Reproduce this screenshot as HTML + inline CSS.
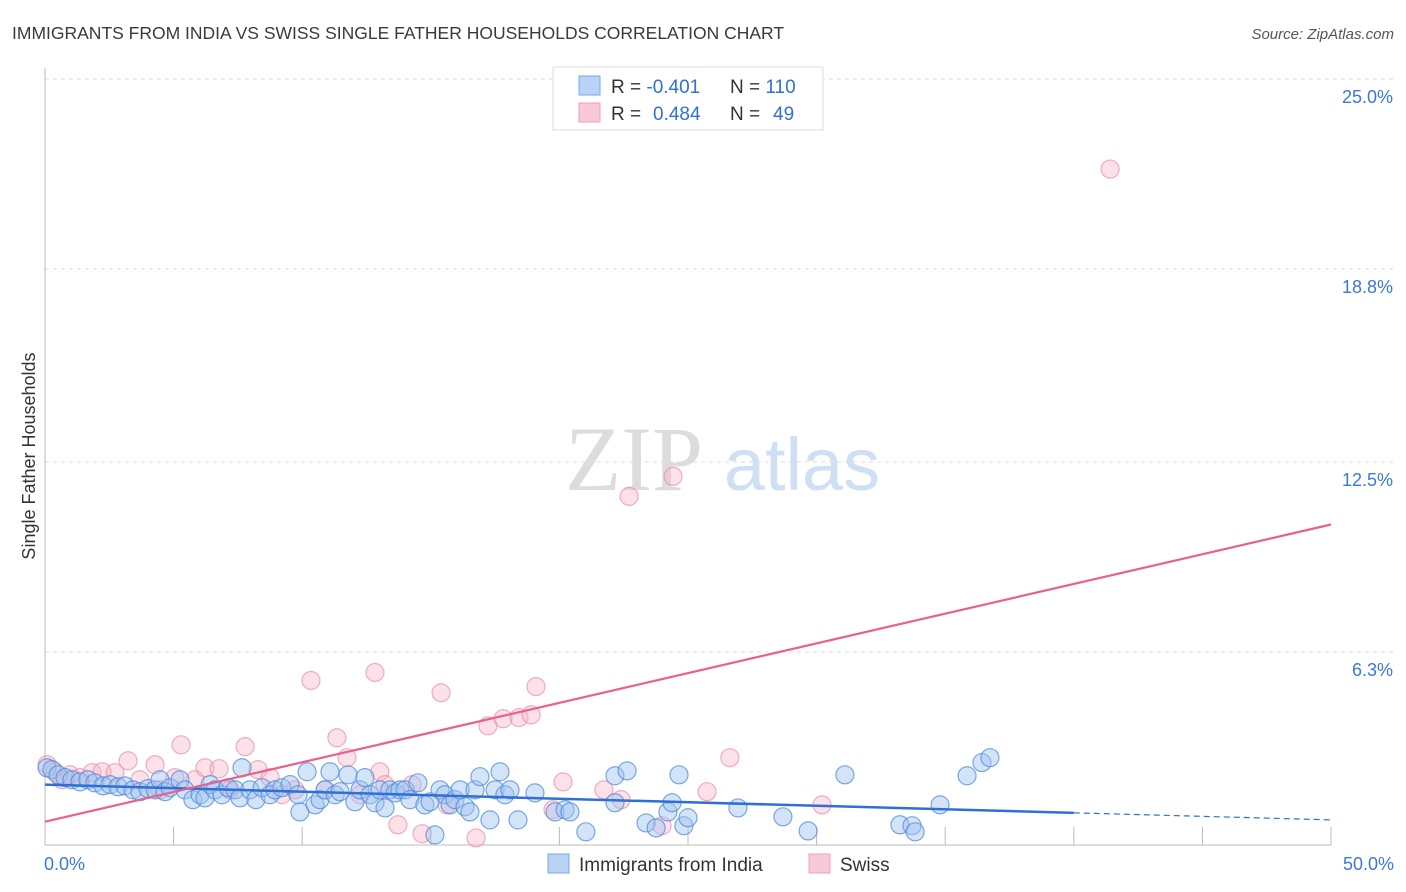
<!DOCTYPE html>
<html><head><meta charset="utf-8">
<style>
body{margin:0;background:#fff;font-family:"Liberation Sans",sans-serif;}
#wrap{position:relative;width:1406px;height:892px;overflow:hidden;}
</style></head>
<body>
<div id="wrap">
<svg id="chart" width="1406" height="892" xmlns="http://www.w3.org/2000/svg">
<text x="12" y="39" font-size="17.5" fill="#3a3a3a">IMMIGRANTS FROM INDIA VS SWISS SINGLE FATHER HOUSEHOLDS CORRELATION CHART</text>
<text x="1394" y="39" font-size="15" fill="#555" font-style="italic" text-anchor="end">Source: ZipAtlas.com</text>
<text x="35" y="456" font-size="18" fill="#333" text-anchor="middle" transform="rotate(-90 35 456)">Single Father Households</text>
<g>
<text x="634" y="490" font-size="92" fill="#dcdcdc" font-family="Liberation Serif,serif" text-anchor="middle">ZIP</text>
<text x="802" y="490" font-size="74" fill="#cfe0f4" text-anchor="middle">atlas</text>
</g>
<g id="grid"></g>
<g id="axes"></g>
<g id="pts"></g>
<g id="trends"></g>
<g>
<rect x="553" y="67" width="270" height="63" fill="#fff" stroke="#ddd"/>
<rect x="579" y="76" width="21" height="19" fill="#b8d3f5" stroke="#7aaae6"/>
<rect x="579" y="103" width="21" height="19" fill="#f9c9d7" stroke="#f0a0b8"/>
<text x="611" y="93" font-size="19" fill="#333">R = <tspan fill="#2f6fd6">-0.401</tspan><tspan x="730">N = </tspan><tspan fill="#2f6fd6">110</tspan></text>
<text x="611" y="120" font-size="19" fill="#333">R = <tspan x="653" fill="#2f6fd6">0.484</tspan><tspan x="730">N = </tspan><tspan x="773" fill="#2f6fd6">49</tspan></text>
</g>
<g>
<rect x="548" y="854" width="21" height="19" fill="#b8d3f5" stroke="#7aaae6"/>
<text x="579" y="871" font-size="19" fill="#333">Immigrants from India</text>
<rect x="809" y="854" width="21" height="19" fill="#f9c9d7" stroke="#f0a0b8"/>
<text x="840" y="871" font-size="19" fill="#333">Swiss</text>
</g>
</svg>
</div>
<script>
const yTicks=[6.3,12.5,18.8,25.0];
const yTickLabels=["6.3%","12.5%","18.8%","25.0%"];
const xTickLabels=["0.0%","50.0%"];
const indiaX=[0.08,0.27,0.51,0.78,1.05,1.36,1.67,1.94,2.26,2.53,2.84,3.11,3.42,3.69,4.00,4.28,4.47,4.67,4.86,5.25,5.44,5.75,6.03,6.22,6.42,6.61,6.88,7.12,7.39,7.58,7.66,7.97,8.20,8.44,8.75,8.94,9.21,9.53,9.84,9.91,10.19,10.50,10.69,10.89,11.08,11.28,11.47,11.78,12.05,12.25,12.44,12.64,12.83,13.02,13.22,13.41,13.61,13.80,14.00,14.19,14.50,14.77,14.97,15.16,15.36,15.55,15.75,15.94,16.14,16.33,16.52,16.72,16.91,17.30,17.50,17.69,17.88,18.08,18.39,19.05,19.83,20.22,20.41,21.03,22.16,22.16,22.63,23.37,23.76,24.22,24.38,24.84,25.00,24.65,26.94,28.69,29.67,31.10,33.24,33.71,33.83,34.80,35.85,36.43,36.74];
const indiaY=[2.52,2.46,2.29,2.20,2.13,2.06,2.13,2.03,1.93,1.97,1.90,1.93,1.80,1.74,1.84,1.80,2.13,1.74,1.87,2.13,1.80,1.48,1.64,1.54,1.97,1.80,1.64,1.87,1.80,1.54,2.52,1.80,1.48,1.87,1.64,1.80,1.87,1.97,1.64,1.08,2.39,1.31,1.48,1.80,2.39,1.64,1.74,2.29,1.41,1.80,2.20,1.64,1.38,1.80,1.21,1.80,1.70,1.80,1.80,1.48,2.03,1.31,1.41,0.33,1.80,1.64,1.31,1.48,1.80,1.25,1.08,1.80,2.23,0.82,1.80,2.39,1.64,1.80,0.82,1.70,1.08,1.15,1.08,0.43,2.26,1.38,2.42,0.72,0.56,1.08,1.38,0.63,0.89,2.29,1.21,0.92,0.46,2.29,0.66,0.63,0.43,1.31,2.26,2.69,2.85];
const swissX=[0.08,0.39,0.66,0.97,1.36,1.83,2.22,2.72,3.23,3.69,4.28,4.47,5.05,5.29,5.83,6.22,6.77,7.19,7.78,8.28,8.75,9.21,9.72,10.34,10.89,11.35,11.74,12.25,12.83,13.02,13.22,13.72,14.27,14.66,15.40,15.63,16.76,17.22,17.81,18.43,18.90,19.09,19.75,20.14,21.73,22.40,22.71,23.99,24.42,25.74,26.63,30.21,41.41];
const swissY=[2.62,2.39,2.13,2.29,2.20,2.36,2.39,2.36,2.75,2.13,2.62,1.80,2.20,3.27,2.13,2.52,2.49,1.80,3.21,2.46,2.20,1.64,1.80,5.37,1.80,3.50,2.85,1.64,5.63,2.39,1.97,0.66,1.97,0.37,4.97,1.31,0.23,3.89,4.12,4.16,4.25,5.17,1.15,2.06,1.80,1.48,11.38,0.63,12.03,1.74,2.85,1.31,22.06];
const indiaTrend=[[0,1.97],[40,1.05],[50,0.82]];
const swissTrend=[[0,0.76],[50,10.46]];

const NS="http://www.w3.org/2000/svg";
const X0=45,X1=1331,Y0=845,Y25=79;
const xs=v=>X0+(X1-X0)*v/50;
const ys=v=>Y0-(Y0-Y25)*v/25;
function mk(tag,attrs,parent){const e=document.createElementNS(NS,tag);for(const k in attrs)e.setAttribute(k,attrs[k]);parent.appendChild(e);return e;}
const grid=document.getElementById('grid'),axes=document.getElementById('axes'),pts=document.getElementById('pts'),tr=document.getElementById('trends');
yTicks.forEach((t,i)=>{
 const y=ys(t);
 const l=mk('line',{x1:X0,x2:1395,y1:y,y2:y,stroke:'#dcdcdc','stroke-dasharray':'4,4'},grid);
 
 
 const tx=mk('text',{x:1393,y:y+24,'font-size':18,fill:'#3b78d8','text-anchor':'end'},axes);
 tx.textContent=yTickLabels[i];
 
 
});
const yl=mk('line',{x1:X0,x2:X0,y1:68,y2:Y0,stroke:'#bbb'},axes);


const xl=mk('line',{x1:X0,x2:X1,y1:Y0,y2:Y0,stroke:'#bbb'},axes);


for(let i=1;i<=10;i++){
 const x=xs(i*5);
 const t=mk('line',{x1:x,x2:x,y1:Y0-18,y2:Y0,stroke:'#bbb'},axes);
 
 
}
[[0,'start',44],[50,'end',1394]].forEach((d,i)=>{
 const t=mk('text',{x:d[2],y:870,'font-size':18,fill:'#3b78d8','text-anchor':d[1]},axes);
 t.textContent=xTickLabels[i];
 
 
});
swissX.forEach((v,i)=>{
 const c=mk('circle',{cx:xs(v),cy:ys(swissY[i]),r:9,fill:'rgba(248,180,200,0.4)',stroke:'rgba(235,140,170,0.7)','stroke-width':1.2},pts);
 
 
});
indiaX.forEach((v,i)=>{
 const c=mk('circle',{cx:xs(v),cy:ys(indiaY[i]),r:9,fill:'rgba(160,196,240,0.45)',stroke:'rgba(80,140,220,0.75)','stroke-width':1.2},pts);
 
 
});
const b1=mk('line',{x1:xs(indiaTrend[0][0]),y1:ys(indiaTrend[0][1]),x2:xs(indiaTrend[1][0]),y2:ys(indiaTrend[1][1]),stroke:'#2f6fd6','stroke-width':2.5},tr);


const b2=mk('line',{x1:xs(indiaTrend[1][0]),y1:ys(indiaTrend[1][1]),x2:xs(indiaTrend[2][0]),y2:ys(indiaTrend[2][1]),stroke:'#2f6fd6','stroke-width':1.2,'stroke-dasharray':'6,4'},tr);


const p1=mk('line',{x1:xs(swissTrend[0][0]),y1:ys(swissTrend[0][1]),x2:xs(swissTrend[1][0]),y2:ys(swissTrend[1][1]),stroke:'#e8608c','stroke-width':2.2},tr);


</script>
</body></html>
